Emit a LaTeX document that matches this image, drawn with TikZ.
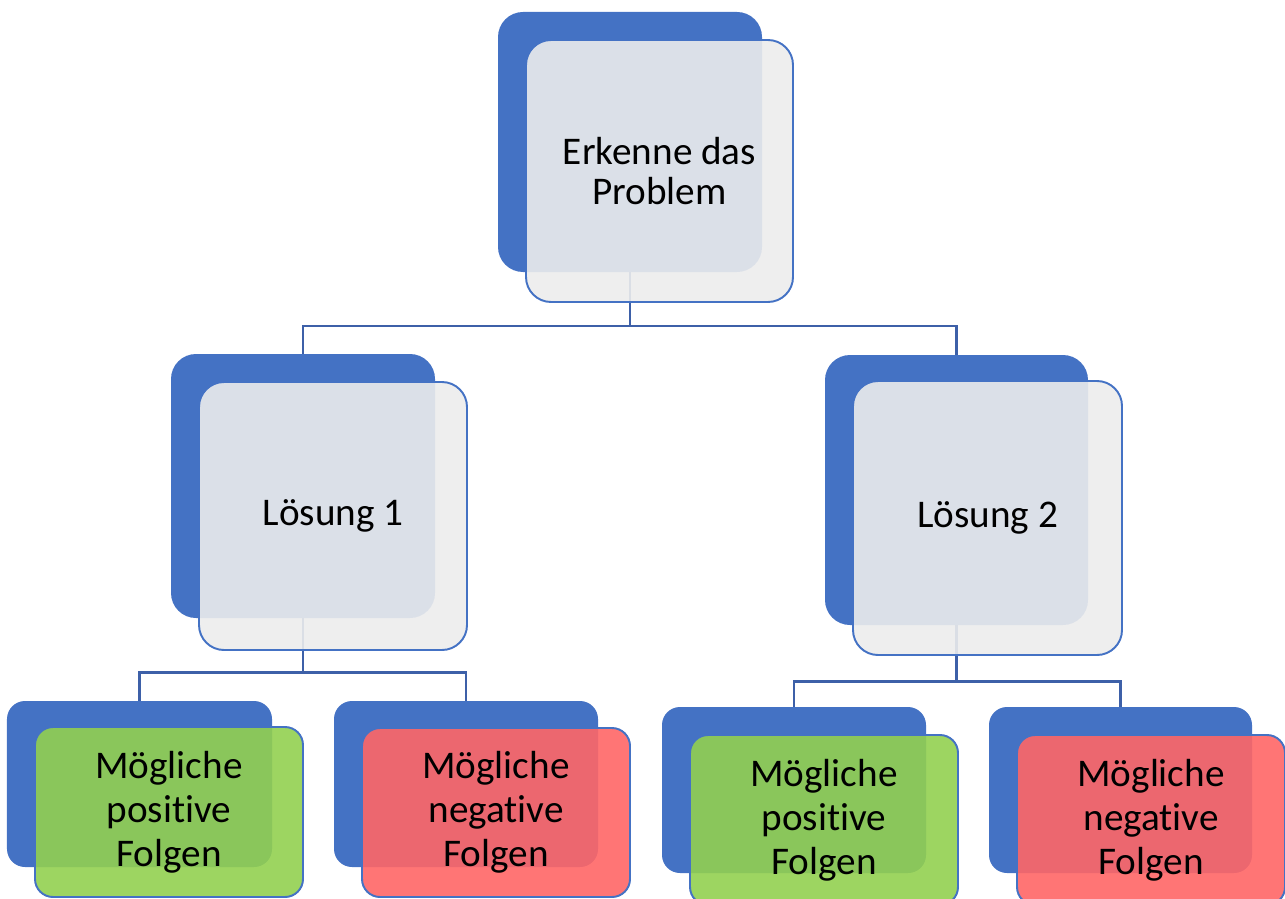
\documentclass[tikz,border=0pt]{standalone}
\usepackage{fontspec}
\setmainfont[Ligatures=NoCommon]{Carlito}
\definecolor{sablue}{RGB}{68,114,196}
\definecolor{saline}{RGB}{61,96,168}
\definecolor{sagrey}{RGB}{236,236,236}
\definecolor{sagreen}{RGB}{146,208,80}
\definecolor{sared}{RGB}{255,102,102}
\begin{document}
\begin{tikzpicture}[
    back/.style={fill=sablue, draw=none, inner sep=0pt},
    front/.style={draw=sablue, line width=1.1pt, fill opacity=0.9, text opacity=1,
        inner sep=0pt, align=center, font=\fontsize{22.3}{25}\selectfont},
    big/.style={rounded corners=0.5cm},
    small/.style={rounded corners=0.36cm},
    conn/.style={draw=saline, line width=1.3pt}]
    \useasboundingbox (0,0) rectangle (25.7,-17.96);
    \node[back, big, minimum width=5.28cm, minimum height=5.2cm]  (probB)  at (12.6,-2.84) {};
    \node[back, big, minimum width=5.28cm, minimum height=5.28cm] (loes1B) at (6.06,-9.72) {};
    \node[back, big, minimum width=5.26cm, minimum height=5.4cm]  (loes2B) at (19.13,-9.8) {};
    \node[back, small, minimum width=5.3cm, minimum height=3.32cm]  (pos1B) at (2.79,-15.68) {};
    \node[back, small, minimum width=5.28cm, minimum height=3.32cm] (neg1B) at (9.32,-15.68) {};
    \node[back, small, minimum width=5.28cm, minimum height=3.32cm] (pos2B) at (15.88,-15.8) {};
    \node[back, small, minimum width=5.26cm, minimum height=3.32cm] (neg2B) at (22.41,-15.8) {};
    \draw[conn] (probB.south) -- ++(0,-1.08) -| (loes1B.north);
    \draw[conn] (probB.south) -- ++(0,-1.08) -| (loes2B.north);
    \draw[conn] (loes1B.south) -- ++(0,-1.08) -| (pos1B.north);
    \draw[conn] (loes1B.south) -- ++(0,-1.08) -| (neg1B.north);
    \draw[conn] (loes2B.south) -- ++(0,-1.12) -| (pos2B.north);
    \draw[conn] (loes2B.south) -- ++(0,-1.12) -| (neg2B.north);
    \node[front, big, fill=sagrey, minimum width=5.34cm, minimum height=5.24cm,
        font=\fontsize{22.3}{23}\selectfont] (prob) at (13.19,-3.42) {Erkenne das\\Problem};
    \node[front, big, fill=sagrey, minimum width=5.36cm, minimum height=5.36cm] (loes1) at (6.66,-10.32) {Lösung 1};
    \node[front, big, fill=sagrey, minimum width=5.38cm, minimum height=5.48cm] (loes2) at (19.75,-10.36) {Lösung 2};
    \node[front, small, fill=sagreen, minimum width=5.36cm, minimum height=3.4cm] (pos1) at (3.38,-16.24) {Mögliche\\positive\\Folgen};
    \node[front, small, fill=sared, minimum width=5.36cm, minimum height=3.38cm] (neg1) at (9.92,-16.25) {Mögliche\\negative\\Folgen};
    \node[front, small, fill=sagreen, minimum width=5.36cm, minimum height=3.4cm] (pos2) at (16.48,-16.4) {Mögliche\\positive\\Folgen};
    \node[front, small, fill=sared, minimum width=5.36cm, minimum height=3.4cm] (neg2) at (23.02,-16.4) {Mögliche\\negative\\Folgen};
\end{tikzpicture}
\end{document}
